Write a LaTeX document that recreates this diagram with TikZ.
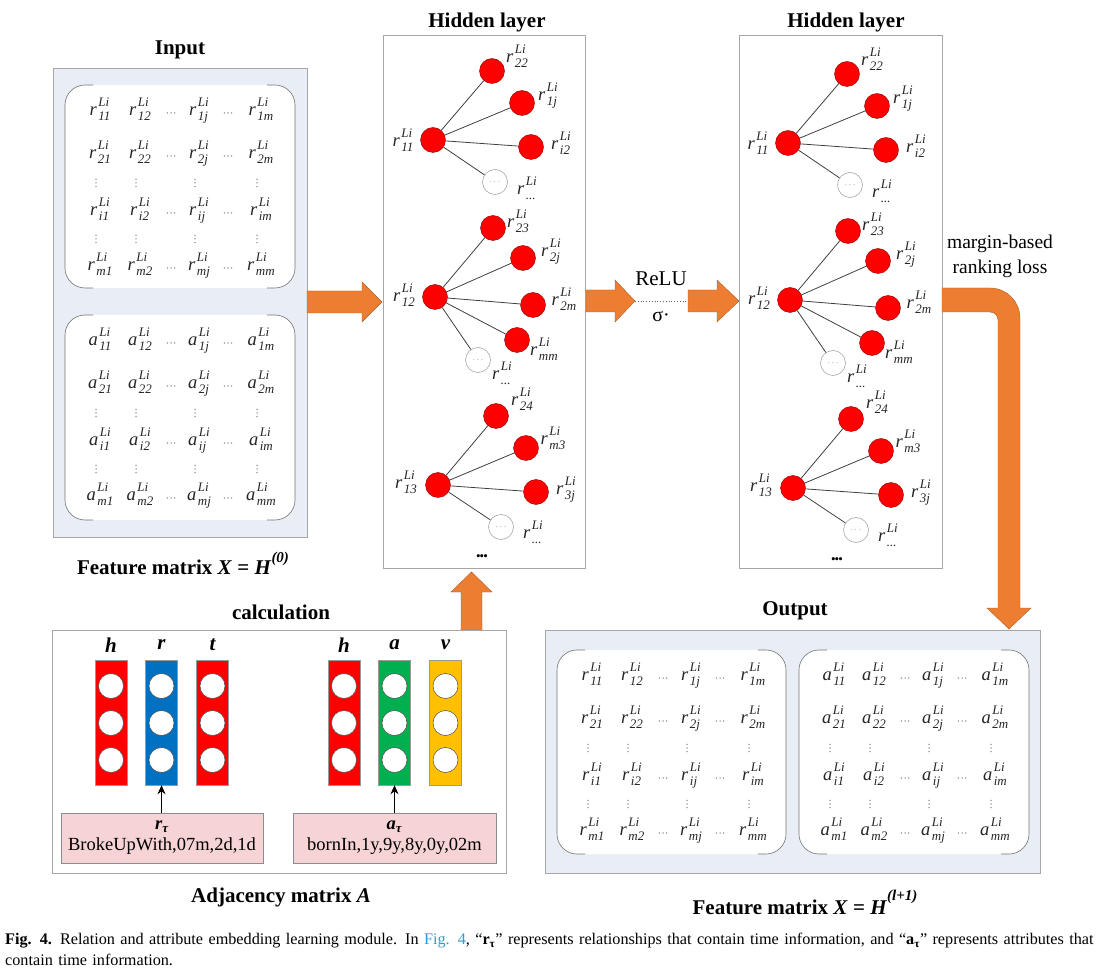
\documentclass[tikz,border=0pt]{standalone}
\usepackage{fontspec}
\setmainfont{Liberation Serif}
\usetikzlibrary{arrows.meta}
\definecolor{orangeA}{HTML}{ED7D31}
\definecolor{panel}{HTML}{E9EEF6}
\definecolor{boxgray}{HTML}{A6A6A6}
\definecolor{redN}{HTML}{FF0000}
\definecolor{blueV}{HTML}{0070C0}
\definecolor{greenV}{HTML}{00B050}
\definecolor{yellowV}{HTML}{FFC000}
\definecolor{pinkB}{HTML}{F6D3D5}
\definecolor{linkblue}{HTML}{2D9BD8}
% r^{Li}_{xx} built from text: letter, then stacked Li over subscript
\newcommand\ent[2]{\textit{#1}\kern1.5pt\raisebox{-5pt}{\fontsize{13}{13}\selectfont\itshape\begin{tabular}[b]{@{}l@{}}Li\\[1pt]#2\end{tabular}}}
% inner rounded panel with visible corners and sides only
\newcommand\innerbox[4]{%
  \fill[white,rounded corners=20pt] (#1,#2) rectangle ({#1+#3},{#2+#4});
  \draw[black!55,line width=0.6pt,rounded corners=20pt]
    ({#1+28},#2) -- (#1,#2) -- (#1,{#2+#4}) -- ({#1+28},{#2+#4});
  \draw[black!55,line width=0.6pt,rounded corners=20pt]
    ({#1+#3-28},#2) -- ({#1+#3},#2) -- ({#1+#3},{#2+#4}) -- ({#1+#3-28},{#2+#4});
}
\newcommand\hdot[2]{\foreach \dd in {-3.6,0,3.6} \fill[black!50] ({#1+\dd},#2) circle (0.75pt);}
\newcommand\vdot[2]{\foreach \dd in {-3.6,0,3.6} \fill[black!50] (#1,{#2+\dd}) circle (0.75pt);}
\newcommand\matblock[4]{% x0, y0, letter, name
  \foreach \ri/\ry in {1/26,2/69,i/126,m/181}{
    \foreach \cj/\cx in {1/35,2/75,j/134,m/196}{
      \node[ent] (#4-\ri\cj) at ({#1+\cx},{#2+\ry}) {\ent{#3}{\ri\cj}};
    }
    \hdot{#1+106}{#2+\ry+2}
    \hdot{#1+163}{#2+\ry+2}
  }
  \foreach \cx in {31,71,130,192}{
    \vdot{#1+\cx}{#2+98}
    \vdot{#1+\cx}{#2+154}
  }
}
\newcommand\hiddenlayer{%
  % group 1
  \node[rnode] (n11) at (433,140) {};
  \node[rnode] (n22) at (492,71) {};
  \node[rnode] (n1j) at (522,103) {};
  \node[rnode] (ni2) at (531,147) {};
  \node[dnode] (d1) at (495,182) {$\cdots$};
  \foreach \t in {n22,n1j,ni2,d1} \draw[edge] (n11) -- (\t);
  \node[lab] (l11) at (403,142) {\ent{r}{11}};
  \node[lab] (l22) at (517,58) {\ent{r}{22}};
  \node[lab] (l1j) at (548,96) {\ent{r}{1j}};
  \node[lab] (li2) at (561,145) {\ent{r}{i2}};
  \node[lab] (ld1) at (527,190) {\ent{r}{...}};
  % group 2
  \node[rnode] (n12) at (435,297) {};
  \node[rnode] (n23) at (493,228) {};
  \node[rnode] (n2j) at (523,258) {};
  \node[rnode] (n2m) at (533,305) {};
  \node[rnode] (nmm) at (517,340) {};
  \node[dnode] (d2) at (478,360) {$\cdots$};
  \foreach \t in {n23,n2j,n2m,nmm,d2} \draw[edge] (n12) -- (\t);
  \node[lab] (l12) at (404,297) {\ent{r}{12}};
  \node[lab] (l23) at (518,223) {\ent{r}{23}};
  \node[lab] (l2j) at (551,252) {\ent{r}{2j}};
  \node[lab] (l2m) at (564,301) {\ent{r}{2m}};
  \node[lab] (lmm) at (544,351) {\ent{r}{mm}};
  \node[lab] (ld2) at (502,375) {\ent{r}{...}};
  % group 3
  \node[rnode] (n13) at (438,485) {};
  \node[rnode] (n24) at (496,416) {};
  \node[rnode] (nm3) at (526,448) {};
  \node[rnode] (n3j) at (536,492) {};
  \node[dnode] (d3) at (501,527) {$\cdots$};
  \foreach \t in {n24,nm3,n3j,d3} \draw[edge] (n13) -- (\t);
  \node[lab] (l13) at (406,484) {\ent{r}{13}};
  \node[lab] (l24) at (522,401) {\ent{r}{24}};
  \node[lab] (lm3) at (553,440) {\ent{r}{m3}};
  \node[lab] (l3j) at (566,490) {\ent{r}{3j}};
  \node[lab] (ld3) at (533,534) {\ent{r}{...}};
  \node[moredots] (more) at (482,558) {\textbullet\kern-1pt\textbullet\kern-1pt\textbullet};
}
\begin{document}
\begin{tikzpicture}[x=1pt,y=-1pt,
  title/.style={font=\fontsize{21}{25}\selectfont\bfseries, inner sep=0},
  ent/.style={font=\fontsize{18.5}{22}\selectfont, inner sep=0, text=black!85},
  lab/.style={font=\fontsize{18.5}{22}\selectfont, inner sep=0, text=black!85},
  panelbox/.style={fill=panel, draw=boxgray, line width=0.9pt, inner sep=0, anchor=north west},
  layerbox/.style={fill=white, draw=boxgray, line width=0.9pt, inner sep=0, anchor=north west},
  rnode/.style={circle, fill=redN, draw=red!55!black, line width=0.4pt, minimum size=25pt, inner sep=0},
  dnode/.style={circle, fill=white, draw=black!40, line width=0.5pt, minimum size=25pt, inner sep=0, font=\fontsize{9}{9}\selectfont, text=black!60},
  edge/.style={draw=black!75, line width=0.8pt},
  moredots/.style={font=\fontsize{13}{13}\selectfont, inner sep=0},
  bigarrow/.style={fill=orangeA, draw=orangeA!75!black, line width=0.4pt},
  vecbox/.style={minimum width=32pt, minimum height=125pt, inner sep=0, draw=black!40, line width=0.4pt},
  hole/.style={circle, fill=white, draw=black!70, minimum size=25pt, inner sep=0, line width=0.5pt},
  pinkbox/.style={fill=pinkB, draw=black!45, line width=0.6pt, minimum height=50pt, inner sep=0, align=center, font=\fontsize{18.5}{22}\selectfont},
  vlab/.style={font=\fontsize{21}{25}\selectfont\bfseries\itshape, inner sep=0},
  plain/.style={font=\fontsize{19.5}{25}\selectfont, inner sep=0, align=center},
  smallarrow/.style={-{Stealth[length=9pt,width=8pt]}, line width=1.1pt, black}
]
\useasboundingbox (0,0) rectangle (1112,973);
\fill[white] (0,0) rectangle (1112,973);

% ---------------- Input panel ----------------
\node[title] (tin) at (180,50) {Input};
\node[panelbox, minimum width=254pt, minimum height=469pt] (inpanel) at (53,68) {};
\innerbox{65}{85}{230}{203}
\innerbox{65}{315}{230}{205}
\matblock{65}{85}{r}{inr}
\matblock{65}{315}{a}{ina}
\node[title] (fin) at (183,563) {Feature matrix \textit{X} = \textit{H}\raisebox{12pt}{\fontsize{15}{15}\selectfont\textit{(0)}}};

% ---------------- Hidden layers ----------------
\node[title] (th1) at (487,22) {Hidden layer};
\node[title] (th2) at (846,22) {Hidden layer};
\node[layerbox, minimum width=202pt, minimum height=533pt] (L1) at (383,35) {};
\node[layerbox, minimum width=203pt, minimum height=533pt] (L2) at (739,35) {};
\begin{scope}[name prefix=A-]
  \hiddenlayer
\end{scope}
\begin{scope}[shift={(355,3)}, name prefix=B-]
  \hiddenlayer
\end{scope}

% ---------------- big arrows ----------------
\filldraw[bigarrow] (307,291) -- (362,291) -- (362,282) -- (382,302) -- (362,322) -- (362,313) -- (307,313) -- cycle;
\filldraw[bigarrow] (586,290) -- (615,290) -- (615,280) -- (635,301) -- (615,322) -- (615,312) -- (586,312) -- cycle;
\filldraw[bigarrow] (688,290) -- (717,290) -- (717,280) -- (739,301) -- (717,322) -- (717,312) -- (688,312) -- cycle;
\coordinate (rl) at (635,301);
\coordinate (rr) at (688,301);
\draw[dotted, black!60, line width=0.8pt] (rl) -- (rr);
\node[plain, font=\fontsize{21}{25}\selectfont] (relu) at (661,279) {ReLU};
\node[plain, font=\fontsize{20}{24}\selectfont] (sig) at (661,316) {σ·};
\filldraw[bigarrow] (942,288) -- (990,288) .. controls (1006.6,288) and (1020,301.4) .. (1020,318)
  -- (1020,608) -- (1031,608) -- (1009,629) -- (987,608) -- (998,608)
  -- (998,320) .. controls (998,315.6) and (994.4,312) .. (990,312) -- (942,312) -- cycle;
\node[plain] (margin) at (1000,256) {margin-based\\ranking loss};
\filldraw[bigarrow] (461,630) -- (461,592) -- (451,592) -- (471.5,572) -- (492,592) -- (482,592) -- (482,630) -- cycle;

% ---------------- calculation panel ----------------
\node[title] (tcal) at (281,612) {calculation};
\node[layerbox, minimum width=454pt, minimum height=243pt] (cal) at (52,630) {};
\foreach \nm/\x/\col/\lt in {vh1/111/redN/h, vr/161.5/blueV/r, vt/212.5/redN/t, vh2/344/redN/h, va/394.5/greenV/a, vv/445.5/yellowV/v} {
  \node[vecbox, fill=\col] (\nm) at (\x,722.5) {};
  \foreach \k/\y in {1/686,2/723,3/760} \node[hole] (\nm-\k) at (\x,\y) {};
  \node[vlab] (\nm-lab) at (\x,645) {\lt};
}
\node[pinkbox, minimum width=202pt] (pkl) at (162,838) {\textbf{\textit{r}}\textsubscript{\textbf{\textit{τ}}}\\[-1pt]BrokeUpWith,07m,2d,1d};
\node[pinkbox, minimum width=203pt] (pkr) at (394.5,838) {\textbf{\textit{a}}\textsubscript{\textbf{\textit{τ}}}\\[-1pt]bornIn,1y,9y,8y,0y,02m};
\draw[smallarrow] (vr.south |- pkl.north) -- (vr.south);
\draw[smallarrow] (va.south |- pkr.north) -- (va.south);
\node[title] (adj) at (281,897) {Adjacency matrix \textit{A}};

% ---------------- Output panel ----------------
\node[title] (tout) at (795,611) {Output};
\node[panelbox, minimum width=495pt, minimum height=243pt] (outpanel) at (545,630) {};
\innerbox{557}{650}{229}{204}
\innerbox{799}{650}{230}{204}
\matblock{557}{650}{r}{outr}
\matblock{799}{650}{a}{outa}
\node[title] (fout) at (805,902) {Feature matrix \textit{X} = \textit{H}\raisebox{14pt}{\fontsize{15}{15}\selectfont\textit{(l+1)}}};

% ---------------- caption ----------------
\node[anchor=north west, inner sep=0, text width=1105pt, align=left, font=\fontsize{16.2}{20.5}\selectfont] (cap) at (5,933)
{\textbf{Fig. 4.}\enspace Relation and attribute embedding learning module. In \textcolor{linkblue}{Fig. 4}, “\textbf{r}\textsubscript{\textbf{τ}}” represents relationships that contain time information, and “\textbf{a}\textsubscript{\textbf{τ}}” represents attributes that\\contain time information.};
\end{tikzpicture}
\end{document}
